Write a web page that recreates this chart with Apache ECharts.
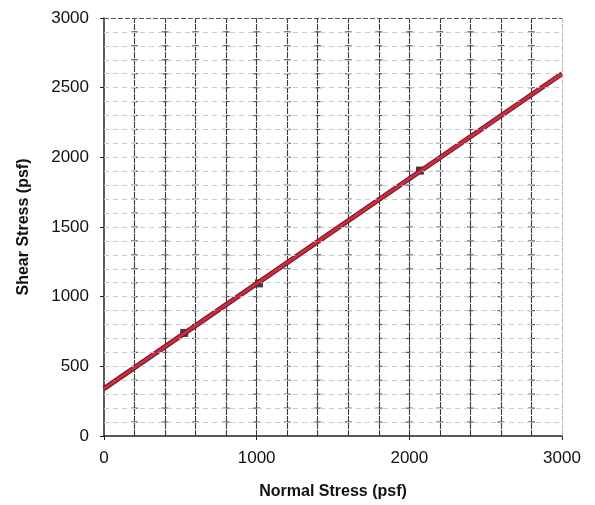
<!DOCTYPE html>
<html>
<head>
<meta charset="utf-8">
<script src="https://cdn.jsdelivr.net/npm/echarts@6/dist/echarts.min.js"></script>
<style>
  html, body { margin: 0; padding: 0; background: #fff; }
  #chart { width: 595px; height: 505px; }
</style>
</head>
<body>
<div id="chart"></div>
<script>
// Direct shear test results: measured points and the fitted failure envelope
const normalStress = [525, 1015, 2070];
const shearStress = [740, 1095, 1905];

// Failure envelope: cohesion intercept and slope (tan phi)
const envelopeX = [0, 3000];
const envelopeY = [340, 2600];

const xTicks = [0, 1000, 2000, 3000];
const yTicks = [0, 500, 1000, 1500, 2000, 2500, 3000];

const xTitle = 'Normal Stress (psf)';
const yTitle = 'Shear Stress (psf)';

// Small crosses where the vertical and horizontal grid lines meet
const crossPts = [];
for (let gx = 200; gx < 3000; gx += 200) {
  for (let gy = 100; gy < 3000; gy += 100) crossPts.push([gx, gy]);
}

const font = '"Liberation Sans", Arial, sans-serif';
const chart = echarts.init(document.getElementById('chart'));
chart.setOption({
  animation: false,
  backgroundColor: '#ffffff',
  grid: { left: 104, right: 33, top: 18, bottom: 66 },
  xAxis: {
    type: 'value', min: 0, max: 3000, interval: 1000,
    name: xTitle, nameLocation: 'middle', nameGap: 48,
    nameTextStyle: { fontFamily: font, fontSize: 16, fontWeight: 'bold', color: '#111' },
    axisLine: { show: true, lineStyle: { color: '#222', width: 1.5 } },
    axisTick: { show: true, length: 4, inside: false, lineStyle: { color: '#222' } },
    axisLabel: { fontFamily: font, fontSize: 17, color: '#111', margin: 14,
      formatter: v => (xTicks.includes(v) ? String(v) : '') },
    splitLine: { show: false },
    minorTick: { show: false }
  },
  yAxis: {
    type: 'value', min: 0, max: 3000, interval: 500,
    name: yTitle, nameLocation: 'middle', nameGap: 72, nameRotate: 90,
    nameTextStyle: { fontFamily: font, fontSize: 16, fontWeight: 'bold', color: '#111' },
    axisLine: { show: true, lineStyle: { color: '#222', width: 1.5 } },
    axisTick: { show: true, length: 4, lineStyle: { color: '#222' } },
    axisLabel: { fontFamily: font, fontSize: 17, color: '#111', margin: 15,
      formatter: v => (yTicks.includes(v) ? String(v) : '') },
    splitLine: { show: false }
  },
  series: [
    // Vertical grid every 200 psf (dark), horizontal every 100 psf (faint)
    {
      type: 'line', silent: true, data: [],
      markLine: {
        silent: true, symbol: 'none', label: { show: false },
        data: (() => {
          const arr = [];
          for (let gx = 200; gx <= 3000; gx += 200) {
            arr.push({ xAxis: gx, lineStyle: { color: gx === 3000 ? '#c9b9a8' : '#3a3a3a', width: 1.1, type: [6, 1] } });
          }
          for (let gy = 100; gy <= 3000; gy += 100) {
            arr.push({ yAxis: gy, lineStyle: { color: gy === 3000 ? '#555' : '#c4ccd4', width: gy === 3000 ? 1.2 : 1, type: gy === 3000 ? [5, 2] : [5, 4] } });
          }
          return arr;
        })()
      }
    },
    {
      type: 'scatter', silent: true, data: crossPts,
      symbol: 'rect', symbolSize: [7, 1.2],
      itemStyle: { color: '#333' }
    },
    // Measured points
    {
      type: 'scatter', data: normalStress.map((x, i) => [x, shearStress[i]]),
      symbol: 'rect', symbolSize: 8, itemStyle: { color: '#111' }, z: 3
    },
    // Failure envelope: dark outline with red core
    {
      type: 'line', data: envelopeX.map((x, i) => [x, envelopeY[i]]),
      showSymbol: false, lineStyle: { color: '#6e1a26', width: 5 }, z: 4
    },
    {
      type: 'line', data: envelopeX.map((x, i) => [x, envelopeY[i]]),
      showSymbol: false, lineStyle: { color: '#d02a42', width: 3 }, z: 5
    }
  ]
});
</script>
</body>
</html>
